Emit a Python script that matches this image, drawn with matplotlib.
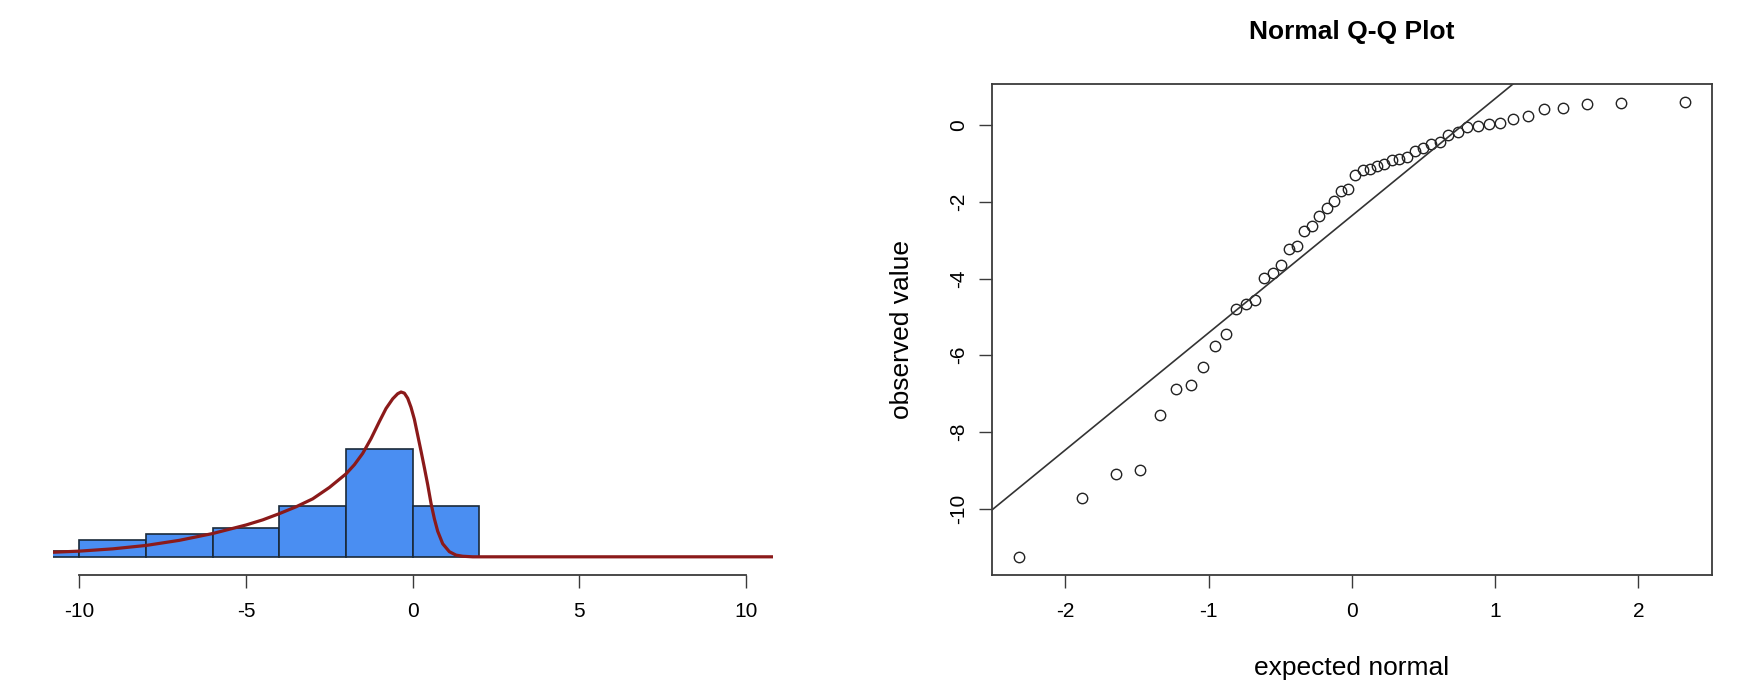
import numpy as np
import matplotlib
matplotlib.use("Agg")
import matplotlib.pyplot as plt
from statistics import NormalDist

plt.rcParams['font.family'] = ['Liberation Sans', 'DejaVu Sans']

# sorted sample (50 values)
observed = [-11.26, -9.72, -9.11, -9.00, -7.55, -6.88, -6.77, -6.30, -5.75, -5.44,
            -4.79, -4.66, -4.57, -3.98, -3.86, -3.66, -3.22, -3.16, -2.77, -2.64,
            -2.38, -2.16, -1.98, -1.72, -1.67, -1.31, -1.18, -1.15, -1.07, -1.02,
            -0.91, -0.89, -0.83, -0.67, -0.60, -0.50, -0.43, -0.26, -0.17, -0.05,
            -0.02, 0.02, 0.07, 0.17, 0.24, 0.41, 0.44, 0.54, 0.58, 0.60]

hist_breaks = [-12, -10, -8, -6, -4, -2, 0, 2]

# fitted density curve
curve_x = [-10.8, -10.0, -9.0, -8.0, -7.0, -6.0, -5.0, -4.5, -4.0, -3.5, -3.0, -2.5, -2.0,
           -1.75, -1.5, -1.25, -1.0, -0.8, -0.6, -0.45, -0.35, -0.25, -0.15, -0.05,
           0.05, 0.15, 0.25, 0.35, 0.45, 0.55, 0.65, 0.75, 0.9, 1.1, 1.3, 1.5, 1.8,
           2.2, 3.0, 10.8]
curve_y = [0.008, 0.010, 0.014, 0.020, 0.029, 0.041, 0.056, 0.065, 0.076, 0.088, 0.102, 0.122, 0.146,
           0.162, 0.182, 0.208, 0.238, 0.261, 0.278, 0.287, 0.290, 0.288, 0.279, 0.263,
           0.242, 0.214, 0.186, 0.157, 0.127, 0.094, 0.067, 0.045, 0.023, 0.009, 0.003, 0.001, 0.0,
           0.0, 0.0, 0.0]

hist_ticks = [-10, -5, 0, 5, 10]
qq_xticks = [-2, -1, 0, 1, 2]
qq_yticks = [-10, -8, -6, -4, -2, 0]

axis_col = '#3a3a3a'
W, H = 1746, 696
fig = plt.figure(figsize=(W / 100, H / 100), dpi=100)
fig.patch.set_facecolor('white')

top_px, bot_px = 84, 575

# ---- left: histogram + density
ax1 = fig.add_axes([52.7 / W, 1 - bot_px / H, 720 / W, (bot_px - top_px) / H])
ax1.hist(observed, bins=hist_breaks, density=True, color='#4a8ef2',
         edgecolor='#1a2a3a', linewidth=1.2)
ax1.plot(curve_x, curve_y, color='#8b1a1a', lw=2.3, solid_joinstyle='round')
ax1.set_xlim(-10.8, 10.8)
ax1.set_ylim(-0.032, 0.832)
for s in ['top', 'right', 'left']:
    ax1.spines[s].set_visible(False)
ax1.spines['bottom'].set_bounds(-10, 10)
ax1.spines['bottom'].set_color(axis_col)
ax1.spines['bottom'].set_linewidth(1.3)
ax1.set_yticks([])
ax1.set_xticks(hist_ticks)
ax1.set_xticklabels([str(t) for t in hist_ticks])
ax1.tick_params(axis='x', direction='out', length=9.4, width=1.0, color=axis_col,
                labelsize=15, pad=10)

# ---- right: normal Q-Q plot
n = len(observed)
nd = NormalDist()
theo = [nd.inv_cdf((i + 0.5) / n) for i in range(n)]

ax2 = fig.add_axes([992 / W, 1 - bot_px / H, 719.7 / W, (bot_px - top_px) / H])
ax2.plot(theo, observed, 'o', mfc='none', mec='#222222', ms=7.5, mew=1.0)

q1, q3 = np.quantile(observed, [0.25, 0.75])
t1, t3 = nd.inv_cdf(0.25), nd.inv_cdf(0.75)
slope = (q3 - q1) / (t3 - t1)
ax2.axline((t1, q1), slope=slope, color='#333333', lw=1.2)

xr = max(theo) - min(theo)
yr = max(observed) - min(observed)
ax2.set_xlim(min(theo) - 0.04 * xr, max(theo) + 0.04 * xr)
ax2.set_ylim(min(observed) - 0.04 * yr, max(observed) + 0.04 * yr)

for s in ax2.spines.values():
    s.set_color(axis_col)
    s.set_linewidth(1.3)
ax2.set_xticks(qq_xticks)
ax2.set_xticklabels([str(t) for t in qq_xticks])
ax2.set_yticks(qq_yticks)
ax2.set_yticklabels([str(t) for t in qq_yticks], rotation=90, va='center')
ax2.tick_params(direction='out', length=9.4, width=1.0, color=axis_col, labelsize=15)
ax2.tick_params(axis='x', pad=10)
ax2.tick_params(axis='y', pad=8)

ax2.set_xlabel('expected normal', fontsize=19)
ax2.xaxis.set_label_coords(0.5, (bot_px - 668) / (bot_px - top_px))
ax2.xaxis.label.set_va('center')
ax2.set_ylabel('observed value', fontsize=19)
ax2.yaxis.set_label_coords((902 - 992) / 719.7, 0.5)
ax2.yaxis.label.set_va('center')
ax2.text(0.5, (bot_px - 32) / (bot_px - top_px), 'Normal Q-Q Plot', transform=ax2.transAxes,
         ha='center', va='center', fontsize=19, fontweight='bold')

fig.savefig('out.png', dpi=100, facecolor='white')
